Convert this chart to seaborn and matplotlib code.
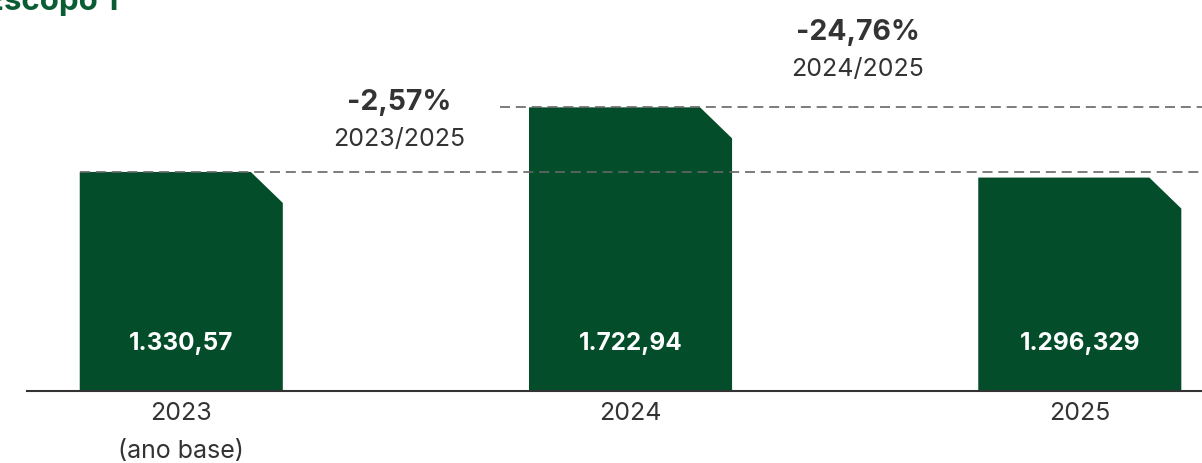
import matplotlib
matplotlib.use("Agg")
import matplotlib.pyplot as plt
from matplotlib.patches import Polygon
import seaborn as sns
import pandas as pd

# Emissões de Escopo 1 (tCO2e)
years = ["2023", "2024", "2025"]
tick_labels = ["2023\n(ano base)", "2024", "2025"]
values = [1330.57, 1722.94, 1296.329]
value_labels = ["1.330,57", "1.722,94", "1.296,329"]
changes = ["-2,57%", "-24,76%"]
change_periods = ["2023/2025", "2024/2025"]

BAR = "#034d2b"
TITLE = "#0b5c35"
TEXT = "#333333"
DASH = "#666666"

sns.set_theme(style="white")
plt.rcParams["font.family"] = ["Inter", "DejaVu Sans"]

df = pd.DataFrame({"ano": years, "valor": values})

fig = plt.figure(figsize=(12.02, 4.63), dpi=100)
ax = fig.add_axes([27 / 1202, 72 / 463, 1175 / 1202, 391 / 463])

sns.barplot(data=df, x="ano", y="valor", color=BAR, width=0.452,
            saturation=1, ax=ax, zorder=2)
ax.set_xlim(-0.3434, 2.272)
ax.set_ylim(0, 2375)

# Replace each rectangle with a shape whose top-right corner is cut
fig.canvas.draw()
to_px = ax.transData
to_data = ax.transData.inverted()
cut_w_px, cut_h_px = 32, 31
for p in list(ax.patches):
    x0, y0 = p.get_x(), p.get_y()
    x1, y1 = x0 + p.get_width(), y0 + p.get_height()
    (px1, py1) = to_px.transform((x1, y1))
    xc, _ = to_data.transform((px1 - cut_w_px, py1))
    _, yc = to_data.transform((px1, py1 - cut_h_px))
    poly = Polygon([(x0, y0), (x0, y1), (xc, y1), (x1, yc), (x1, y0)],
                   closed=True, facecolor=BAR, edgecolor="none", zorder=2)
    p.remove()
    ax.add_patch(poly)

# Reference lines at 2023 and 2024 levels
dash_kw = dict(color=DASH, lw=1.2, linestyle=(0, (6, 3.5)), zorder=3)
ax.plot([-0.226, 2.272], [values[0], values[0]], **dash_kw)
ax.plot([0.71, 2.272], [values[1], values[1]], **dash_kw)

# Values inside bars
for i, lbl in enumerate(value_labels):
    ax.text(i, 290, lbl, ha="center", va="center", color="white",
            fontsize=17.5, fontweight="bold", zorder=4)

# Variation annotations
ann_pos = [(0.486, 1752, 1530), (1.506, 2177, 1952)]
for (x, y_pct, y_per), pct, per in zip(ann_pos, changes, change_periods):
    ax.text(x, y_pct, pct, ha="center", va="center", color=TEXT,
            fontsize=20.5, fontweight="bold")
    ax.text(x, y_per, per, ha="center", va="center", color=TEXT,
            fontsize=18)

# Axes styling
for s in ["top", "right", "left"]:
    ax.spines[s].set_visible(False)
ax.spines["bottom"].set_color("#333333")
ax.spines["bottom"].set_linewidth(1.5)
ax.set_yticks([])
ax.set_xlabel("")
ax.set_ylabel("")
ax.set_xticks(range(len(years)))
ax.set_xticklabels(tick_labels, color=TEXT, fontsize=18, linespacing=1.8,
                   va="top")
ax.tick_params(axis="x", length=0, pad=8)

fig.text(-15 / 1202, 1 - 10 / 463, "Escopo 1", color=TITLE, fontsize=22.5,
         fontweight="bold", ha="left", va="baseline")

fig.savefig("out.png", dpi=100, facecolor="white")
